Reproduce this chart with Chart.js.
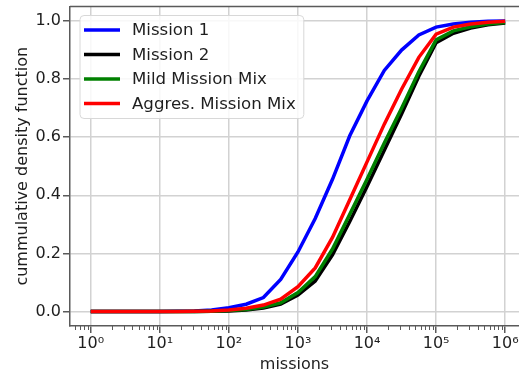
<!DOCTYPE html>
<html><head><meta charset="utf-8">
<script src="https://cdn.jsdelivr.net/npm/chart.js@4"></script>
<style>html,body{margin:0;padding:0;background:#fff;overflow:hidden}</style>
</head><body>
<canvas id="c" width="519" height="375"></canvas>
<script>
const missions = [1, 1.778, 3.162, 5.623, 10, 17.78, 31.62, 56.23, 100, 177.8, 316.2, 562.3,
  1000, 1778, 3162, 5623, 10000, 17783, 31623, 56234, 100000, 177828, 316228, 562341, 1000000];
const mission1 = [0,0,0,0,0,0.001,0.002,0.005,0.013,0.025,0.048,0.11,0.205,0.32,0.455,0.605,0.725,0.83,0.90,0.952,0.979,0.99,0.996,0.999,1.0];
const mission2 = [0,0,0,0,0,0,0,0.001,0.002,0.005,0.012,0.025,0.057,0.105,0.195,0.31,0.43,0.555,0.68,0.81,0.925,0.958,0.976,0.987,0.993];
const mildMix  = [0,0,0,0,0,0,0,0.001,0.003,0.007,0.015,0.03,0.065,0.12,0.215,0.335,0.455,0.58,0.70,0.825,0.935,0.966,0.98,0.99,0.995];
const aggrMix  = [0,0,0,0,0,0,0.001,0.002,0.005,0.011,0.022,0.042,0.085,0.15,0.255,0.385,0.515,0.645,0.765,0.875,0.955,0.979,0.99,0.996,0.999];
const seriesNames = ['Mission 1','Mission 2','Mild Mission Mix','Aggres. Mission Mix'];
const xTickValues = [1, 10, 100, 1000, 10000, 100000, 1000000];
const xTickLabels = ['10⁰','10¹','10²','10³','10⁴','10⁵','10⁶'];
const yTickValues = [0, 0.2, 0.4, 0.6, 0.8, 1.0];

const FONT = "'DejaVu Sans'";
const SPINE = '#5a5a5a';
const GRID = '#d2d2d2';
const TEXT = '#1e1e1e';

Chart.defaults.font.family = FONT;
Chart.defaults.font.size = 16;
Chart.defaults.color = TEXT;

function pts(ys){ return missions.map((x,i)=>({x:x, y:ys[i]})); }

const colors = ['#0000ff','#000000','#008000','#ff0000'];
const allSeries = [mission1, mission2, mildMix, aggrMix];
const drawOrder = [3,2,1,0];

const datasets = allSeries.map((s,i)=>({
  label: seriesNames[i], data: pts(s), borderColor: colors[i], backgroundColor: colors[i],
  borderWidth: 3.5, pointRadius: 0, tension: 0, fill: false, order: drawOrder[i]
}));

const framePlugin = {
  id:'frame',
  afterDatasetsDraw(chart){
    const ctx = chart.ctx, a = chart.chartArea, xs = chart.scales.x;
    ctx.save();
    ctx.strokeStyle = SPINE; ctx.lineWidth = 1.5;
    ctx.beginPath(); ctx.moveTo(a.left, a.top); ctx.lineTo(a.right, a.top); ctx.stroke();
    ctx.lineWidth = 1;
    for (let k=-1;k<=6;k++){
      for (let m=2;m<=9;m++){
        const v = m*Math.pow(10,k);
        if (v < xs.min || v > xs.max) continue;
        const px = Math.round(xs.getPixelForValue(v))+0.5;
        ctx.beginPath(); ctx.moveTo(px, a.bottom); ctx.lineTo(px, a.bottom+4); ctx.stroke();
      }
    }
    ctx.font = '16.6px ' + FONT;
    let maxW = 0;
    seriesNames.forEach(n=>{ maxW = Math.max(maxW, ctx.measureText(n).width); });
    const x0 = a.left + 10, y0 = a.top + 9;
    const w = 52 + maxW + 8, h = 103, r = 4;
    ctx.beginPath();
    ctx.moveTo(x0+r,y0); ctx.lineTo(x0+w-r,y0); ctx.arcTo(x0+w,y0,x0+w,y0+r,r);
    ctx.lineTo(x0+w,y0+h-r); ctx.arcTo(x0+w,y0+h,x0+w-r,y0+h,r);
    ctx.lineTo(x0+r,y0+h); ctx.arcTo(x0,y0+h,x0,y0+h-r,r);
    ctx.lineTo(x0,y0+r); ctx.arcTo(x0,y0,x0+r,y0,r); ctx.closePath();
    ctx.fillStyle = 'rgba(255,255,255,0.85)'; ctx.fill();
    ctx.strokeStyle = '#d8d8d8'; ctx.lineWidth = 1; ctx.stroke();
    ctx.textBaseline = 'middle'; ctx.textAlign = 'left';
    seriesNames.forEach((n,i)=>{
      const yy = y0 + 14.5 + i*24.5;
      ctx.strokeStyle = colors[i]; ctx.lineWidth = 3.5;
      ctx.beginPath(); ctx.moveTo(x0+4, yy); ctx.lineTo(x0+40, yy); ctx.stroke();
      ctx.fillStyle = TEXT; ctx.fillText(n, x0+52, yy+1);
    });
    ctx.restore();
  }
};

new Chart(document.getElementById('c'), {
  type: 'line',
  data: { datasets },
  options: {
    responsive: false, animation: false, devicePixelRatio: 1,
    layout: { padding: { top: 6.5, right: 0, left: 0, bottom: 0 } },
    plugins: { legend: { display: false }, tooltip: { enabled: false } },
    scales: {
      x: {
        type: 'logarithmic', min: Math.pow(10,-0.3), max: Math.pow(10,6.2),
        afterBuildTicks: s => { s.ticks = xTickValues.map(v=>({value:v, major:true})); },
        afterFit: s => { s.height = 49; s.paddingLeft = 0; s.paddingRight = 0; },
        ticks: { autoSkip:false, maxRotation:0, padding: 1, color: TEXT,
          callback: (v,i) => xTickLabels[i] },
        grid: { color: GRID, lineWidth: 1.5, tickLength: 7, tickColor: SPINE, tickWidth: 1.5 },
        border: { color: SPINE, width: 1.5 },
        title: { display: true, text: 'missions', color: TEXT, font:{size:16}, padding:{top:0,bottom:1} }
      },
      y: {
        type: 'linear', min: -0.05, max: 1.05,
        afterBuildTicks: s => { s.ticks = yTickValues.map(v=>({value:v})); },
        afterFit: s => { s.width = 70; s.paddingTop = 0; s.paddingBottom = 0; },
        ticks: { padding: 2, color: TEXT, callback: v => Number(v).toFixed(1) },
        grid: { color: GRID, lineWidth: 1.5, tickLength: 7, tickColor: SPINE, tickWidth: 1.5 },
        border: { color: SPINE, width: 1.5 },
        title: { display: true, text: 'cummulative density function', color: TEXT, font:{size:16}, padding:{top:13,bottom:0} }
      }
    }
  },
  plugins: [framePlugin]
});
</script>
</body></html>
